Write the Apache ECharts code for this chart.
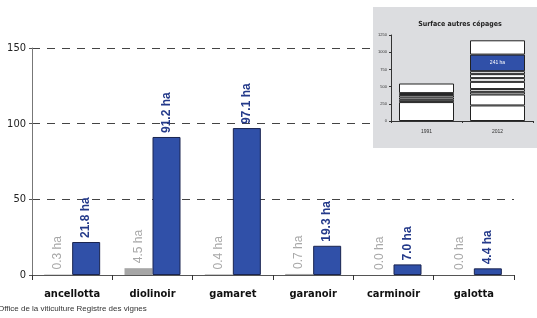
<!DOCTYPE html>
<html>
<head>
<meta charset="utf-8">
<script src="https://cdn.jsdelivr.net/npm/echarts@6/dist/echarts.min.js"></script>
<style>
html, body { margin: 0; padding: 0; background: #fff; }
#container1 { width: 537px; height: 318px; }
</style>
</head>
<body>
<div id="container1"></div>
<script>
// main chart data
var cepages = ['ancellotta', 'diolinoir', 'gamaret', 'garanoir', 'carminoir', 'galotta'];
var surf1991 = [0.3, 4.5, 0.4, 0.7, 0.0, 0.0];
var surf2012 = [21.8, 91.2, 97.1, 19.3, 7.0, 4.4];
var yTicks = [0, 50, 100, 150];

// inset: stacked segments per year (ha), bottom to top
var insetYears = ['1991', '2012'];
var seg1991 = [275, 33, 34, 34, 12, 17, 140];
var seg2012 = [226, 159, 39, 40, 105, 54, 58, 43, 241, 208];
var insetTicks = [0, 250, 500, 750, 1000, 1250];
var highlightSeg = 8; // the 241 ha segment in 2012

var dom = document.getElementById("container1");
var myChart = echarts.init(dom);

var condensed = "'DejaVu Sans Condensed', 'Liberation Sans', sans-serif";

var nSeg = Math.max(seg1991.length, seg2012.length);
var insetSeries = [];
for (var i = 0; i < nSeg; i++) {
    var hl = (i === highlightSeg);
    insetSeries.push({
        type: 'bar',
        xAxisIndex: 1,
        yAxisIndex: 1,
        stack: 'autres',
        barWidth: 55,
        z: 12,
        itemStyle: {
            color: hl ? '#3050a8' : '#ffffff',
            borderColor: '#222222',
            borderWidth: 1
        },
        label: {
            show: hl,
            position: 'inside',
            formatter: '{c} ha',
            color: '#ffffff',
            fontSize: 5
        },
        data: [
            i < seg1991.length ? seg1991[i] : '-',
            i < seg2012.length ? seg2012[i] : '-'
        ]
    });
}

var fmt = function (p) { return p.value.toFixed(1) + ' ha'; };

option = {
    animation: false,
    textStyle: { fontFamily: 'Liberation Sans' },
    title: {
        text: 'Surface autres cépages',
        left: 455,
        top: 16,
        textAlign: 'center',
        z: 12,
        textStyle: { fontSize: 7, fontWeight: 'bold', color: '#222', fontFamily: condensed }
    },
    graphic: [
        {
            type: 'rect',
            z: 5,
            shape: { x: 373, y: 7, width: 164, height: 141 },
            style: { fill: '#dcdde0' }
        },
        {
            type: 'text',
            left: -2,
            top: 305,
            style: {
                text: 'Office de la viticulture Registre des vignes',
                fill: '#333',
                font: '8px Liberation Sans'
            }
        }
    ],
    grid: [
        { left: 32, right: 23, top: 48, bottom: 43 },
        { left: 391, right: 4, top: 35, bottom: 197 }
    ],
    xAxis: [
        {
            type: 'category',
            data: cepages,
            gridIndex: 0,
            axisLine: { lineStyle: { color: '#555', width: 1 } },
            axisTick: { show: true, length: 5, lineStyle: { color: '#333' } },
            axisLabel: {
                color: '#111',
                fontFamily: condensed,
                fontWeight: 'bold',
                fontSize: 11,
                margin: 14
            }
        },
        {
            type: 'category',
            data: insetYears,
            gridIndex: 1,
            z: 12,
            axisLine: { lineStyle: { color: '#333', width: 1 } },
            axisTick: { show: true, length: 2, lineStyle: { color: '#333' } },
            axisLabel: { color: '#333', fontSize: 5, margin: 8 }
        }
    ],
    yAxis: [
        {
            type: 'value',
            gridIndex: 0,
            min: yTicks[0],
            max: yTicks[yTicks.length - 1],
            interval: 50,
            axisLine: { show: true, lineStyle: { color: '#777', width: 1 } },
            axisTick: { show: true, length: 3, lineStyle: { color: '#555' } },
            axisLabel: {
                color: '#222',
                fontFamily: condensed,
                fontSize: 11,
                margin: 6
            },
            splitLine: {
                show: true,
                lineStyle: { color: '#444', type: [8, 7], width: 1 }
            }
        },
        {
            type: 'value',
            gridIndex: 1,
            min: insetTicks[0],
            max: insetTicks[insetTicks.length - 1],
            interval: 250,
            z: 12,
            axisLine: { show: true, lineStyle: { color: '#333', width: 1 } },
            axisTick: { show: true, length: 2, lineStyle: { color: '#333' } },
            axisLabel: {
                color: '#333',
                fontSize: 4,
                margin: 4,
                formatter: function (v) { return String(v); }
            },
            splitLine: { show: false }
        }
    ],
    series: [
        {
            name: '1991',
            type: 'bar',
            barWidth: 28,
            barGap: '0%',
            itemStyle: { color: '#a6a6a6' },
            label: {
                show: true,
                position: 'top',
                rotate: 90,
                align: 'left',
                verticalAlign: 'middle',
                distance: 5,
                formatter: fmt,
                color: '#a8a8a8',
                fontSize: 12
            },
            data: surf1991
        },
        {
            name: '2012',
            type: 'bar',
            barWidth: 28,
            barGap: '0%',
            itemStyle: { color: '#3050a8', borderColor: '#1a2450', borderWidth: 1 },
            label: {
                show: true,
                position: 'top',
                rotate: 90,
                align: 'left',
                verticalAlign: 'middle',
                distance: 4,
                formatter: fmt,
                color: '#243a8a',
                fontWeight: 'bold',
                fontSize: 12
            },
            data: surf2012
        }
    ].concat(insetSeries)
};

if (option && typeof option === "object") {
    myChart.setOption(option, true);
}
</script>
</body>
</html>
